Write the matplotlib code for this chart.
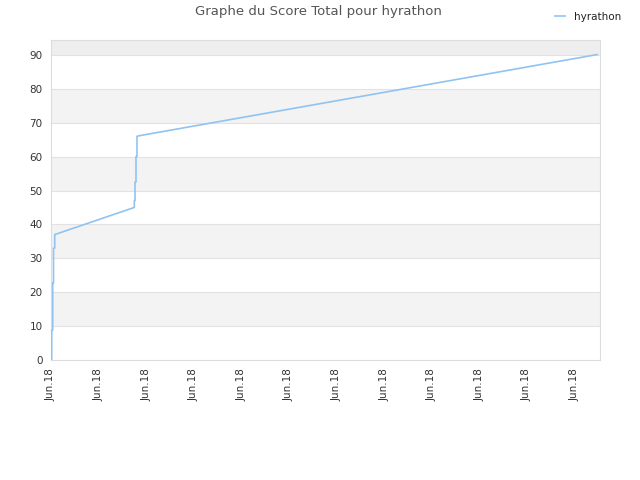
import matplotlib
matplotlib.use("Agg")
import matplotlib.pyplot as plt
import numpy as np

# time (arbitrary units within June 2018) and total score
times = [0.7, 0.7, 1.7, 1.7, 2.5, 2.5, 3.7, 3.7, 83.3, 83.3, 84.0, 84.0, 85.0, 85.0, 86.0, 86.0, 89.0, 546.0]
scores = [0, 8.8, 8.8, 22.7, 22.7, 33.0, 33.0, 37.0, 45.0, 47.0, 47.0, 52.5, 52.5, 60.0, 60.0, 66.0, 66.2, 90.1]
tick_positions = [0, 47.6, 95.2, 142.8, 190.4, 238.0, 285.6, 333.2, 380.8, 428.4, 476.0, 523.6]
tick_labels = ["Jun.18"] * 12
series_name = "hyrathon"
title = "Graphe du Score Total pour hyrathon"

fig = plt.figure(figsize=(6.4, 4.8), dpi=100)
ax = fig.add_axes([51/640, 1-360/480, 549/640, 320/480])

ymax = 94.4
ax.set_xlim(0, 549)
ax.set_ylim(0, ymax)

# alternating bands
for lo in range(0, 100, 10):
    if (lo // 10) % 2 == 1:
        ax.axhspan(lo, min(lo + 10, ymax), color="#f3f3f3", zorder=0, lw=0)
ax.axhspan(90, ymax, color="#eeeeee", zorder=0, lw=0)
for yv in range(10, 100, 10):
    ax.axhline(yv, color="#e2e2e2", lw=0.8, zorder=1)

ax.plot(times, scores, color="#90c3f2", lw=1.2, label=series_name, zorder=3)

ax.set_yticks(range(0, 100, 10))
ax.set_xticks(tick_positions)
ax.set_xticklabels(tick_labels, rotation=90)
ax.tick_params(axis="both", length=0, labelsize=7.5, colors="#333333", pad=6)
for s in ax.spines.values():
    s.set_color("#dddddd")

fig.text(318/640, 1-12/480, title, ha="center", va="center", fontsize=9.5, color="#555555")
leg = fig.legend(loc="upper right", bbox_to_anchor=(0.985, 0.995), frameon=False,
                 fontsize=7.5, handlelength=1.0)
for t in leg.get_texts():
    t.set_color("#222222")

fig.savefig("out.png", dpi=100)
